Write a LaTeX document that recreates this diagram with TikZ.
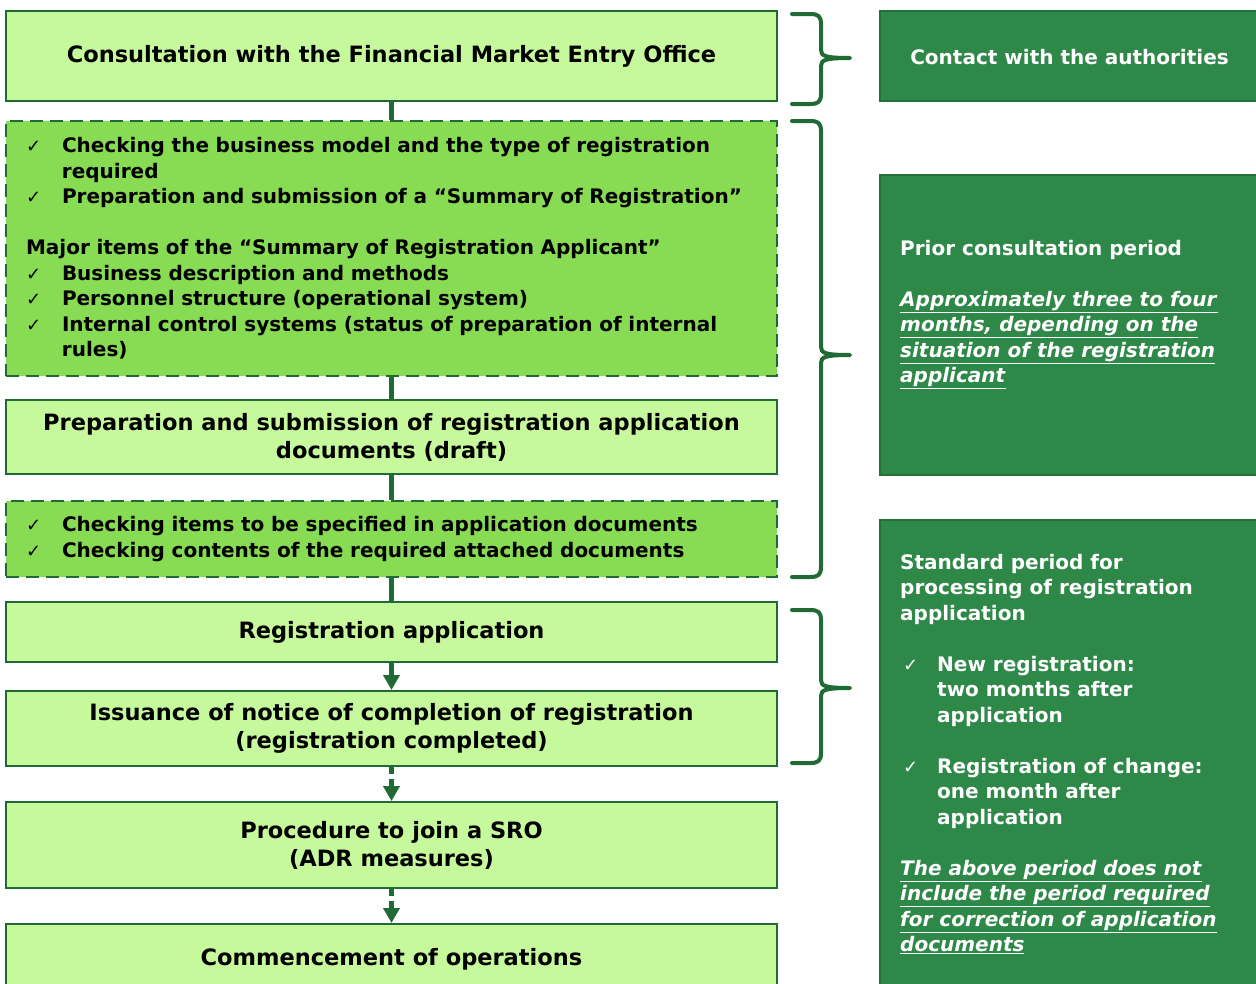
\documentclass[tikz,border=0pt]{standalone}
\usepackage{fontspec}
\setmainfont{DejaVu Sans}
\newfontfamily\chkfont{DejaVu Sans}
\usetikzlibrary{arrows.meta}

\definecolor{lightg}{HTML}{C6F99C}
\definecolor{midg}{HTML}{87DC53}
\definecolor{edgeg}{HTML}{1F6A35}
\definecolor{darkg}{HTML}{2E8847}
\definecolor{darkedge}{HTML}{23703A}

% check-mark bullet and hanging continuation
\newcommand\chk[1]{\makebox[36pt][l]{\mdseries\chkfont\fontsize{18}{18}\selectfont ✓}#1}
\newcommand\hang[1]{\hspace*{36pt}#1}
\newcommand\pchk[1]{\makebox[37pt][l]{\hspace*{3pt}\mdseries\chkfont\fontsize{18}{18}\selectfont ✓}#1}
\newcommand\phang[1]{\hspace*{37pt}#1}
\newcommand\ul[1]{\underline{\textit{#1}}}

\begin{document}
\begin{tikzpicture}[x=1pt,y=-1pt,
  stepbox/.style={draw=edgeg, line width=2pt, fill=lightg, minimum width=771pt,
    inner sep=0pt, align=center, text=black,
    font=\bfseries\fontsize{22.5}{28}\selectfont},
  listbox/.style={stepbox, fill=midg, dash pattern=on 13pt off 7pt,
    text width=731pt, inner xsep=20pt, align=left,
    font=\bfseries\fontsize{20}{25.5}\selectfont},
  panel/.style={fill=darkg, draw=darkedge, line width=1.5pt, minimum width=380pt, inner sep=0pt},
  paneltext/.style={text=white, align=left, inner sep=0pt, anchor=north west,
    font=\bfseries\fontsize{20}{25.5}\selectfont},
  link/.style={draw=edgeg, line width=5pt},
  flow/.style={link, -{Triangle[width=16pt,length=15pt]}},
  dflow/.style={flow, dash pattern=on 7pt off 5pt},
  sidebrace/.style={draw=edgeg, line width=4pt, line cap=round, line join=round}
]
\clip (0,0) rectangle (1256,983);
\fill[white] (0,0) rectangle (1256,983);

% ---- process steps ----
\node[stepbox, minimum height=90pt] (b1) at (391.5,56)
  {Consultation with the Financial Market Entry Office};
\node[listbox, minimum height=255pt] (b2) at (391.5,248.5) {%
  \chk{Checking the business model and the type of registration}\\
  \hang{required}\\
  \chk{Preparation and submission of a “Summary of Registration”}\\[25.5pt]
  Major items of the “Summary of Registration Applicant”\\
  \chk{Business description and methods}\\
  \chk{Personnel structure (operational system)}\\
  \chk{Internal control systems (status of preparation of internal}\\
  \hang{rules)}};
\node[stepbox, minimum height=74pt] (b3) at (391.5,437)
  {Preparation and submission of registration application\\documents (draft)};
\node[listbox, minimum height=76pt] (b4) at (391.5,539) {%
  \chk{Checking items to be specified in application documents}\\
  \chk{Checking contents of the required attached documents}};
\node[stepbox, minimum height=60pt] (b5) at (391.5,632) {Registration application};
\node[stepbox, minimum height=75pt] (b6) at (391.5,728.5)
  {Issuance of notice of completion of registration\\(registration completed)};
\node[stepbox, minimum height=86pt] (b7) at (391.5,845)
  {Procedure to join a SRO\\(ADR measures)};
\node[stepbox, minimum height=100pt, text depth=0pt] (b8) at (391.5,974) {};
\node[font=\bfseries\fontsize{22.5}{28}\selectfont, anchor=base] (t8) at (391.5,965)
  {Commencement of operations};

% ---- connectors ----
\draw[link] (b1) -- (b2);
\draw[link] (b2) -- (b3);
\draw[link] (b3) -- (b4);
\draw[link] (b4) -- (b5);
\draw[flow] (b5) -- (b6);
\draw[dflow] (b6) -- (b7);
\draw[dflow] (b7) -- (b8);

% ---- side braces ----
\newcommand\sidebraceat[3]{% top, bottom, tip
  \draw[sidebrace] (792,#1) -- (810,#1) .. controls (818,#1) and (821,#1+2) .. (821,#1+10)
    -- (821,#3-8) .. controls (821,#3-2) and (825,#3) .. (850,#3)
    .. controls (825,#3) and (821,#3+2) .. (821,#3+8)
    -- (821,#2-10) .. controls (821,#2-2) and (818,#2) .. (810,#2) -- (792,#2);}
\sidebraceat{14}{104}{58}
\sidebraceat{121}{577}{355}
\sidebraceat{610}{763}{688}

% ---- authority panels ----
\node[panel, minimum height=90pt] (pa) at (1070,56) {};
\node[text=white, font=\bfseries\fontsize{20}{25.5}\selectfont] (pat) at (1069.5,57)
  {Contact with the authorities};
\node[panel, minimum height=300pt] (pb) at (1070,325) {};
\node[paneltext] (pbt) at (900,240) {%
  Prior consultation period\\[25.5pt]
  \ul{Approximately three to four}\\
  \ul{months, depending on the}\\
  \ul{situation of the registration}\\
  \ul{applicant}};
\node[panel, minimum height=480pt] (pc) at (1070,760) {};
\node[paneltext] (pct) at (900,554) {%
  Standard period for\\
  processing of registration\\
  application\\[25.5pt]
  \pchk{New registration:}\\
  \phang{two months after}\\
  \phang{application}\\[25.5pt]
  \pchk{Registration of change:}\\
  \phang{one month after}\\
  \phang{application}\\[25.5pt]
  \ul{The above period does not}\\
  \ul{include the period required}\\
  \ul{for correction of application}\\
  \ul{documents}};
\end{tikzpicture}
\end{document}
